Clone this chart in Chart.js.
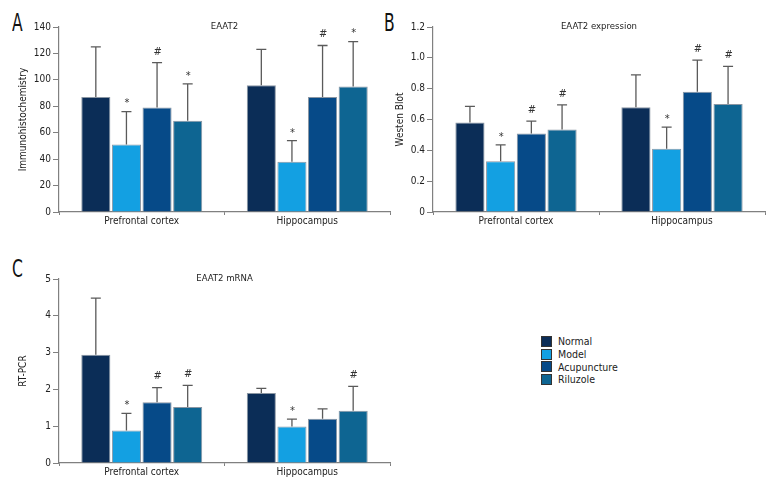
<!DOCTYPE html>
<html>
<head>
<meta charset="utf-8">
<script src="https://cdn.jsdelivr.net/npm/chart.js@4.4.1/dist/chart.umd.min.js"></script>
<style>
  html, body { margin:0; padding:0; background:#fff; }
  body { width:780px; height:504px; position:relative; overflow:hidden;
         font-family:'DejaVu Sans Condensed','Liberation Sans Narrow',sans-serif; color:#222; }
  .panel { position:absolute; }
  .letter { position:absolute; font-size:24px; line-height:24px; color:#111; transform:scaleX(0.72); transform-origin:left top; }
  #legend { position:absolute; left:541px; top:335px; font-size:10.5px; line-height:12.8px; }
  #legend .row { display:flex; align-items:center; height:12.8px; }
  #legend .sw { width:9px; height:9px; border:1px solid #333; margin-right:6px; box-sizing:content-box; }
</style>
</head>
<body>
<div class="letter" style="left:12px;top:11px;">A</div>
<div class="letter" style="left:384px;top:11px;">B</div>
<div class="letter" style="left:12px;top:257px;">C</div>
<canvas id="cA" class="panel" width="392" height="240" style="left:0;top:0;"></canvas>
<canvas id="cB" class="panel" width="390" height="240" style="left:390px;top:0;"></canvas>
<canvas id="cC" class="panel" width="392" height="251" style="left:0;top:240px;"></canvas>
<div id="legend"></div>
<script>
// ---- data ----
const categories = ['Prefrontal cortex', 'Hippocampus'];
const seriesNames = ['Normal', 'Model', 'Acupuncture', 'Riluzole'];
const seriesColors = ['#0b2d57', '#13a0e2', '#064a88', '#0e6592'];

// Panel A: EAAT2 immunohistochemistry (rows = series, cols = categories)
const ihcTitle = 'EAAT2';
const ihcAxisTitle = 'Immunohistochemistry';
const ihcTicks = [0, 20, 40, 60, 80, 100, 120, 140];
const ihcMeans = [[87, 96], [51, 38], [79, 87], [69, 95]];
const ihcSD    = [[38, 27], [25, 16], [34, 39], [28, 34]];
const ihcMarks = [['', ''], ['*', '*'], ['#', '#'], ['*', '*']];

// Panel B: EAAT2 expression western blot
const wbTitle = 'EAAT2 expression';
const wbAxisTitle = 'Westen Blot';
const wbTickVals = [0, 0.2, 0.4, 0.6, 0.8, 1.0, 1.2];
const wbTicks = ['0', '0.2', '0.4', '0.6', '0.8', '1.0', '1.2'];
const wbMeans = [[0.58, 0.68], [0.33, 0.41], [0.51, 0.78], [0.535, 0.70]];
const wbSD    = [[0.105, 0.21], [0.105, 0.14], [0.08, 0.205], [0.16, 0.245]];
const wbMarks = [['', ''], ['*', '*'], ['#', '#'], ['#', '#']];

// Panel C: EAAT2 mRNA RT-PCR
const pcrTitle = 'EAAT2 mRNA';
const pcrAxisTitle = 'RT-PCR';
const pcrTicks = [0, 1, 2, 3, 4, 5];
const pcrMeans = [[2.94, 1.90], [0.88, 0.99], [1.65, 1.20], [1.52, 1.42]];
const pcrSD    = [[1.54, 0.13], [0.47, 0.20], [0.40, 0.27], [0.59, 0.66]];
const pcrMarks = [['', ''], ['*', '*'], ['#', ''], ['#', '#']];

// ---- rendering ----
const FONT = "'DejaVu Sans Condensed','Liberation Sans Narrow',sans-serif";
const AXIS = '#808080';
const TXT = '#222';

const errPlugin = {
  id: 'errbars',
  afterDatasetsDraw(chart, args, opts) {
    const ctx = chart.ctx, y = chart.scales.y;
    ctx.save();
    chart.data.datasets.forEach((ds, i) => {
      const meta = chart.getDatasetMeta(i);
      meta.data.forEach((bar, j) => {
        const top = y.getPixelForValue(ds.data[j] + opts.sd[i][j]);
        ctx.strokeStyle = '#5a5a5a';
        ctx.lineWidth = 1.3;
        ctx.beginPath();
        ctx.moveTo(bar.x, bar.y);
        ctx.lineTo(bar.x, top);
        ctx.moveTo(bar.x - 5, top);
        ctx.lineTo(bar.x + 5, top);
        ctx.stroke();
        const m = opts.marks[i][j];
        if (m) {
          ctx.fillStyle = '#333';
          ctx.font = '11px ' + FONT;
          ctx.textAlign = 'center';
          ctx.textBaseline = 'middle';
          ctx.fillText(m, bar.x + 0.5, top - (m === '*' ? 8 : 11));
        }
      });
    });
    ctx.restore();
  }
};

const titlePlugin = {
  id: 'intitle',
  afterDraw(chart, args, opts) {
    const ctx = chart.ctx, a = chart.chartArea;
    ctx.save();
    ctx.fillStyle = TXT;
    ctx.font = '9.5px ' + FONT;
    ctx.textAlign = 'center';
    ctx.textBaseline = 'middle';
    ctx.fillText(opts.text, (a.left + a.right) / 2, a.top);
    ctx.restore();
  }
};

function makePanel(id, title, axisTitle, tickVals, tickLabels, means, sd, marks, yWidth, titlePad, pad) {
  const max = tickVals[tickVals.length - 1];
  const step = tickVals[1] - tickVals[0];
  new Chart(document.getElementById(id), {
    type: 'bar',
    data: {
      labels: categories,
      datasets: seriesNames.map((n, i) => ({
        label: n,
        data: means[i],
        backgroundColor: seriesColors[i],
        borderColor: '#8a96a3',
        borderWidth: 1,
        categoryPercentage: 0.74,
        barPercentage: 0.95
      }))
    },
    options: {
      responsive: false,
      devicePixelRatio: 1,
      animation: false,
      events: [],
      layout: { padding: pad },
      plugins: {
        legend: { display: false },
        tooltip: { enabled: false },
        title: { display: false },
        errbars: { sd: sd, marks: marks },
        intitle: { text: title }
      },
      scales: {
        x: {
          type: 'category',
          offset: true,
          grid: { offset: true, drawOnChartArea: false, tickLength: 3, color: AXIS, lineWidth: 1 },
          border: { color: AXIS, width: 1.2 },
          ticks: { color: TXT, font: { family: FONT, size: 10 }, padding: 0, maxRotation: 0 },
          afterFit(s) { s.height = 28; }
        },
        y: {
          min: 0, max: max,
          grid: { drawOnChartArea: false, tickLength: 6, color: AXIS, lineWidth: 1 },
          border: { color: AXIS, width: 1.2 },
          ticks: {
            stepSize: step, color: TXT, font: { family: FONT, size: 10 }, padding: 2,
            callback: (v, k) => tickLabels ? tickLabels[k] : String(v)
          },
          title: { display: true, text: axisTitle, color: TXT, font: { family: FONT, size: 10 }, padding: { top: titlePad, bottom: 0 } },
          afterFit(s) { s.width = yWidth; }
        }
      }
    },
    plugins: [errPlugin, titlePlugin]
  });
}

makePanel('cA', ihcTitle, ihcAxisTitle, ihcTicks, null, ihcMeans, ihcSD, ihcMarks, 59, 17, { top: 27, right: 2, left: 0, bottom: 0 });
makePanel('cB', wbTitle, wbAxisTitle, wbTickVals, wbTicks, wbMeans, wbSD, wbMarks, 43, 4, { top: 27, right: 15, left: 0, bottom: 0 });
makePanel('cC', pcrTitle, pcrAxisTitle, pcrTicks, null, pcrMeans, pcrSD, pcrMarks, 59, 17, { top: 39, right: 2, left: 0, bottom: 0 });

// legend
const lg = document.getElementById('legend');
seriesNames.forEach((n, i) => {
  const r = document.createElement('div');
  r.className = 'row';
  const s = document.createElement('div');
  s.className = 'sw';
  s.style.background = seriesColors[i];
  const t = document.createElement('span');
  t.textContent = n;
  r.appendChild(s); r.appendChild(t);
  lg.appendChild(r);
});
</script>
</body>
</html>
